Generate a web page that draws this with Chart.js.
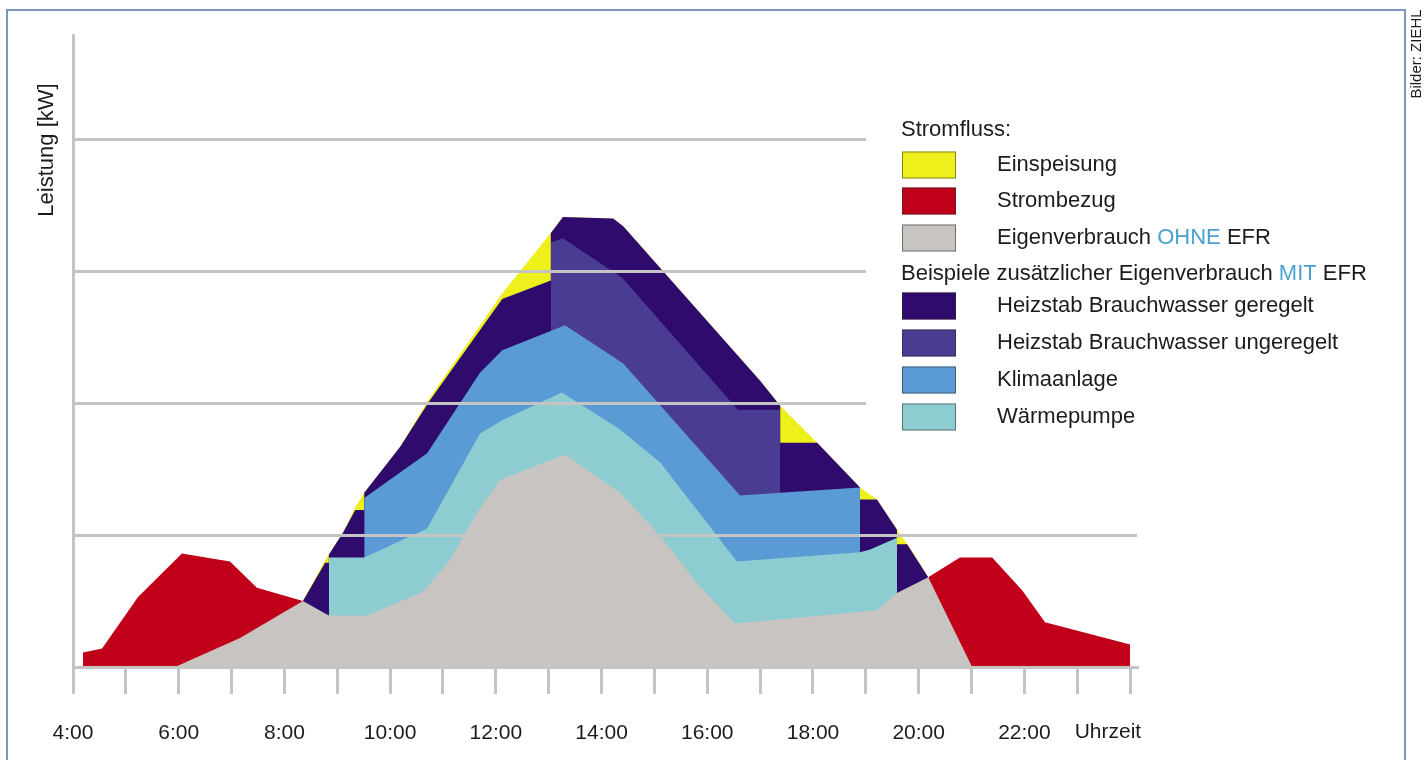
<!DOCTYPE html>
<html lang="de">
<head>
<meta charset="utf-8">
<title>Stromfluss mit und ohne EFR</title>
<script src="https://cdn.jsdelivr.net/npm/chart.js@4.4.1/dist/chart.umd.min.js"></script>
<style>
  html, body { margin: 0; padding: 0; background: #fff; }
  #wrap { width: 1427px; height: 760px; }
</style>
</head>
<body>
<div id="wrap"><canvas id="flowChart" width="1427" height="760"></canvas></div>
<script>
// x = Uhrzeit in Stunden, y = Leistung (1 = ein Gitterabstand)
const timeLabels = ['4:00', '6:00', '8:00', '10:00', '12:00', '14:00', '16:00', '18:00', '20:00', '22:00'];

// Oberkanten der Flächen als [Stunde, Leistung]
const pvTop = [
    [8.35, 0.50], [8.77, 0.81], [9.11, 1.02], [9.34, 1.21], [9.51, 1.32], [10.19, 1.67], [10.75, 2.04],
    [12.12, 2.83], [13.04, 3.29], [13.27, 3.41], [14.22, 3.40], [14.41, 3.34], [17.00, 2.17], [17.38, 1.98],
    [18.08, 1.70], [18.89, 1.36], [19.21, 1.27], [19.59, 1.04], [19.89, 0.87], [20.18, 0.68]
];
const geregeltTop = [
    [8.35, 0.50], [8.77, 0.79], [8.84, 0.79], [8.84, 0.85], [9.11, 1.02], [9.34, 1.19], [9.51, 1.19],
    [9.51, 1.32], [10.19, 1.67], [10.75, 2.02], [12.12, 2.79], [13.04, 2.93], [13.04, 3.29], [13.27, 3.41],
    [14.22, 3.40], [14.41, 3.34], [17.00, 2.17], [17.38, 1.98], [17.38, 1.70], [18.08, 1.70], [18.89, 1.36],
    [18.89, 1.27], [19.21, 1.27], [19.59, 1.04], [19.59, 0.93], [19.78, 0.93], [20.18, 0.68]
];
const ungeregeltTop = [
    [13.04, 3.22], [13.27, 3.25], [14.39, 2.95], [16.58, 1.95], [17.38, 1.95]
];
const klimaTop = [
    [9.51, 1.28], [10.70, 1.62], [11.70, 2.23], [12.12, 2.40], [13.31, 2.59], [14.41, 2.30],
    [16.62, 1.30], [17.38, 1.32], [18.89, 1.36]
];
const waermepumpeTop = [
    [8.84, 0.83], [9.51, 0.83], [10.70, 1.05], [11.70, 1.77], [12.12, 1.87], [13.25, 2.08], [14.35, 1.80],
    [15.11, 1.55], [16.56, 0.80], [18.89, 0.87], [19.08, 0.89], [19.59, 0.98]
];
const eigenverbrauchTop = [
    [5.93, 0], [7.16, 0.22], [8.35, 0.50], [8.84, 0.39], [9.56, 0.39], [10.62, 0.57], [11.13, 0.81],
    [11.64, 1.17], [12.08, 1.42], [13.31, 1.61], [14.35, 1.32], [15.05, 1.02], [15.86, 0.61], [16.53, 0.33],
    [19.21, 0.43], [19.59, 0.56], [20.18, 0.68], [21.01, 0]
];
const bezugMorgen = [
    [4.19, 0], [4.19, 0.11], [4.55, 0.14], [5.23, 0.53], [6.06, 0.86], [6.97, 0.80], [7.48, 0.60], [8.35, 0.50]
];
const bezugAbend = [
    [20.18, 0.68], [20.78, 0.83], [21.39, 0.83], [21.96, 0.58], [22.39, 0.34], [24.00, 0.17], [24.00, 0]
];

const colors = {
    einspeisung: '#eef01c',
    bezug: '#c10019',
    eigen: '#c8c4c2',
    geregelt: '#2e0b6c',
    ungeregelt: '#4a3b93',
    klima: '#5b9bd5',
    waermepumpe: '#8dcdd1',
    accent: '#4aa3cf',
    grid: '#c4c4c4',
    text: '#1c1c1c'
};
const FONT = "'Liberation Sans', Arial, sans-serif";

// Legende: Textteile, farbige Wörter mit eigener Farbe
const legendRows = [
    { head: [['Stromfluss:']] },
    { box: colors.einspeisung, text: [['Einspeisung']] },
    { box: colors.bezug, text: [['Strombezug']] },
    { box: colors.eigen, text: [['Eigenverbrauch '], ['OHNE', colors.accent], [' EFR']] },
    { head: [['Beispiele zusätzlicher Eigenverbrauch '], ['MIT', colors.accent], [' EFR']] },
    { box: colors.geregelt, text: [['Heizstab Brauchwasser geregelt']] },
    { box: colors.ungeregelt, text: [['Heizstab Brauchwasser ungeregelt']] },
    { box: colors.klima, text: [['Klimaanlage']] },
    { box: colors.waermepumpe, text: [['Wärmepumpe']] }
];

function area(points, color) {
    return {
        data: points.map(([x, y]) => ({ x, y })),
        backgroundColor: color,
        borderColor: 'rgba(0,0,0,0)',
        borderWidth: 0,
        pointRadius: 0,
        tension: 0,
        fill: 'origin'
    };
}

// Text, Rahmen und Legende direkt auf die Zeichenfläche
const decorations = {
    id: 'decorations',
    afterDraw(chart) {
        const ctx = chart.ctx;
        const x = chart.scales.x;
        ctx.save();

        // Rahmen
        ctx.strokeStyle = '#7f95bd';
        ctx.lineWidth = 2;
        ctx.strokeRect(7, 10, 1398, 770);

        ctx.fillStyle = colors.text;
        ctx.textBaseline = 'middle';

        // Achsentitel
        ctx.save();
        ctx.translate(47, 150);
        ctx.rotate(-Math.PI / 2);
        ctx.textAlign = 'center';
        ctx.font = '22px ' + FONT;
        ctx.fillText('Leistung [kW]', 0, 0);
        ctx.restore();

        ctx.textAlign = 'left';
        ctx.font = '21px ' + FONT;
        ctx.fillText('Uhrzeit', x.getPixelForValue(22.95), 732);

        // Bildnachweis
        ctx.save();
        ctx.translate(1417, 54);
        ctx.rotate(-Math.PI / 2);
        ctx.textAlign = 'center';
        ctx.font = '15px ' + FONT;
        ctx.fillText('Bilder: ZIEHL', 0, 0);
        ctx.restore();

        // Legende auf weißem Feld (verdeckt die oberen Gitterlinien)
        ctx.fillStyle = '#ffffff';
        ctx.fillRect(866, 105, 530, 335);

        const rowY = [130, 165, 201, 238, 274, 306, 343, 380, 417];
        ctx.font = '22px ' + FONT;
        legendRows.forEach((row, i) => {
            const y = rowY[i];
            let tx = 901;
            let parts = row.head;
            if (row.box) {
                ctx.fillStyle = row.box;
                ctx.fillRect(902, y - 13.5, 54, 27);
                ctx.strokeStyle = 'rgba(40,40,40,0.55)';
                ctx.lineWidth = 1;
                ctx.strokeRect(902.5, y - 13, 53, 26);
                tx = 997;
                parts = row.text;
            }
            parts.forEach(([str, col]) => {
                ctx.fillStyle = col || colors.text;
                ctx.fillText(str, tx, y);
                tx += ctx.measureText(str).width;
            });
        });
        ctx.restore();
    }
};

new Chart(document.getElementById('flowChart'), {
    type: 'line',
    data: {
        // Index 0 wird zuletzt (obenauf) gezeichnet
        datasets: [
            area(eigenverbrauchTop, colors.eigen),
            area(waermepumpeTop, colors.waermepumpe),
            area(klimaTop, colors.klima),
            area(ungeregeltTop, colors.ungeregelt),
            area(geregeltTop, colors.geregelt),
            area(pvTop, colors.einspeisung),
            area(bezugMorgen, colors.bezug),
            area(bezugAbend, colors.bezug)
        ]
    },
    options: {
        responsive: false,
        animation: false,
        events: [],
        layout: { padding: { left: 73, right: 290, top: 35, bottom: 0 } },
        plugins: {
            legend: { display: false },
            tooltip: { enabled: false }
        },
        scales: {
            x: {
                type: 'linear',
                min: 4,
                max: 24.13,
                afterFit: (scale) => { scale.height = 93; },
                border: { display: true, color: colors.grid, width: 3, z: 1 },
                grid: { drawOnChartArea: false, drawTicks: true, tickLength: 27, color: colors.grid, lineWidth: 3, z: 1 },
                ticks: {
                    stepSize: 1,
                    includeBounds: false,
                    autoSkip: false,
                    maxRotation: 0,
                    padding: 27,
                    color: colors.text,
                    font: { family: FONT, size: 21 },
                    callback: (v) => (v % 2 === 0 && v < 24) ? timeLabels[(v - 4) / 2] : ''
                }
            },
            y: {
                min: 0,
                max: 4.79,
                border: { display: true, color: colors.grid, width: 3, z: 1 },
                grid: { drawTicks: false, color: colors.grid, lineWidth: 3, z: 1 },
                ticks: { display: false, stepSize: 1, includeBounds: false }
            }
        }
    },
    plugins: [decorations]
});
</script>
</body>
</html>
